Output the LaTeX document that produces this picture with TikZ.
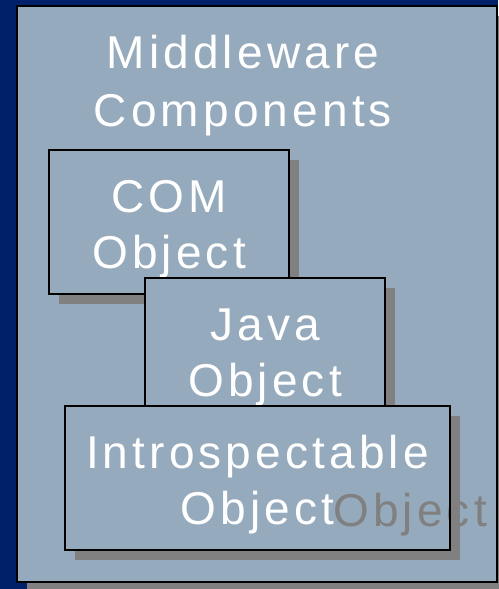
\documentclass[tikz,border=0pt]{standalone}
\usepackage{fontspec}
\setmainfont[LetterSpace=9]{Liberation Sans}
\usetikzlibrary{shadows}
\definecolor{navy}{RGB}{0,33,106}
\definecolor{panelblue}{RGB}{150,170,189}
\definecolor{shadowgray}{RGB}{128,128,128}
\tikzset{
  objbox/.style={draw=black, line width=1.3pt, fill=panelblue, outer sep=0pt,
    text=white, align=center, text height=102pt, text depth=10pt,
    minimum height=144pt,
    drop shadow={shadow xshift=10pt, shadow yshift=-10pt, fill=shadowgray, opacity=1}},
}
\begin{document}
\begin{tikzpicture}[x=1pt, y=-1pt, font=\fontsize{46}{56}\selectfont]
                    \useasboundingbox (0,0) rectangle (498,589);
                    \fill[navy] (0,0) rectangle (498,589);
                    \node[objbox, text height=0pt, text depth=0pt, minimum width=480pt, minimum height=576pt] (panel) at (257,294) {};
                    \node[anchor=base, text=white, align=center, font=\fontsize{46}{58}\selectfont] (title) at (243,126) {Middleware\\Components};
                    \node[objbox, minimum width=240pt] (com) at (169,222) {COM\\Object};
                    \node[objbox, minimum width=240pt] (java) at (265,350) {Java\\Object};
                    \node[objbox, minimum width=385pt] (intro) at (257.5,478) {Introspectable\\Object};
                    \node[anchor=base west, inner sep=0pt, text=shadowgray] (ghost) at (333,526) {Object};
                    \fill[shadowgray] ([yshift=-10pt]intro.north east) rectangle ([xshift=10pt]intro.south east);
                    \draw[line width=1.3pt] (intro.north west) rectangle (intro.south east);
                \end{tikzpicture}
\end{document}
